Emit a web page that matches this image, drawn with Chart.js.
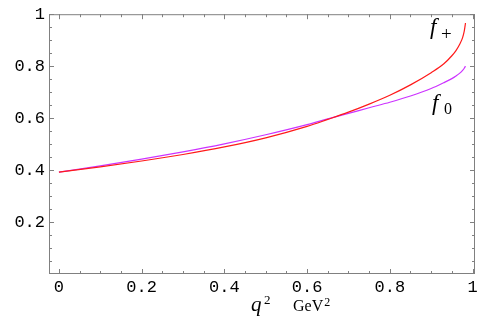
<!DOCTYPE html>
<html>
<head>
<meta charset="utf-8">
<script src="https://cdn.jsdelivr.net/npm/chart.js@4/dist/chart.umd.min.js"></script>
<style>
  html, body { margin: 0; padding: 0; background: #fff; }
  #wrap { width: 484px; height: 318px; position: relative; }
</style>
</head>
<body>
<div id="wrap"><canvas id="c"></canvas></div>
<script>
// f+ and f0 form factors vs q^2 (GeV^2)
const q2 = [0, 0.1, 0.2, 0.3, 0.4, 0.5, 0.6, 0.65, 0.7, 0.75, 0.8, 0.85, 0.9, 0.93, 0.95, 0.96, 0.97, 0.976, 0.98, 0.983];
const fPlus = [0.392, 0.412, 0.435, 0.460, 0.489, 0.524, 0.568, 0.595, 0.623, 0.654, 0.688, 0.728, 0.775, 0.808, 0.840, 0.860, 0.887, 0.910, 0.935, 0.966];
const fZero = [0.392, 0.416, 0.442, 0.470, 0.501, 0.536, 0.575, 0.597, 0.618, 0.640, 0.661, 0.685, 0.714, 0.736, 0.752, 0.762, 0.774, 0.784, 0.792, 0.800];

// frame ticks
const xMajor = [0, 0.2, 0.4, 0.6, 0.8, 1];
const xMinor = [0.05, 0.1, 0.15, 0.25, 0.3, 0.35, 0.45, 0.5, 0.55, 0.65, 0.7, 0.75, 0.85, 0.9, 0.95];
const yMajor = [0.2, 0.4, 0.6, 0.8, 1];
const yMinor = [0.05, 0.1, 0.15, 0.25, 0.3, 0.35, 0.45, 0.5, 0.55, 0.65, 0.7, 0.75, 0.85, 0.9, 0.95];

const pts = (ys) => q2.map((x, i) => ({ x: x, y: ys[i] }));
const fmt = (v) => {
  const r = Math.round(v * 10) / 10;
  return r === 0 || r === 1 ? String(r) : r.toFixed(1);
};

// Mathematica-style frame with inward ticks on all four sides
const framePlugin = {
  id: 'frame',
  afterDatasetsDraw(chart) {
    const { ctx, chartArea: a, scales: { x, y } } = chart;
    ctx.save();
    ctx.strokeStyle = '#808080';
    ctx.lineWidth = 1;
    ctx.strokeRect(a.left + 0.5, a.top + 0.5, a.right - a.left - 1, a.bottom - a.top - 1);
    ctx.beginPath();
    const tx = (v, len) => {
      const px = Math.round(x.getPixelForValue(v)) + 0.5;
      ctx.moveTo(px, a.bottom); ctx.lineTo(px, a.bottom - len);
      ctx.moveTo(px, a.top); ctx.lineTo(px, a.top + len);
    };
    const ty = (v, len) => {
      const py = Math.round(y.getPixelForValue(v)) + 0.5;
      ctx.moveTo(a.left, py); ctx.lineTo(a.left + len, py);
      ctx.moveTo(a.right, py); ctx.lineTo(a.right - len, py);
    };
    xMajor.forEach((v) => tx(v, 5));
    xMinor.forEach((v) => tx(v, 3));
    yMajor.forEach((v) => ty(v, 5));
    yMinor.forEach((v) => ty(v, 3));
    ctx.stroke();
    ctx.restore();
  },
  afterDraw(chart) {
    const ctx = chart.ctx;
    ctx.save();
    ctx.fillStyle = '#000';
    ctx.textBaseline = 'alphabetic';
    // axis title: q^2  GeV^2
    ctx.font = 'italic 21px "Liberation Serif"';
    ctx.fillText('q', 251, 311);
    ctx.font = '13px "Liberation Serif"';
    ctx.fillText('2', 264, 304);
    ctx.font = '16px "Liberation Serif"';
    ctx.fillText('GeV', 293, 311);
    const w = ctx.measureText('GeV').width;
    ctx.font = '12px "Liberation Serif"';
    ctx.fillText('2', 293 + w + 1, 306);
    // curve labels
    ctx.font = 'italic 23px "Liberation Serif"';
    ctx.fillText('f', 430, 34);
    ctx.fillText('f', 432, 110);
    ctx.font = '19px "Liberation Serif"';
    ctx.fillText('+', 441, 40);
    ctx.font = '16px "Liberation Serif"';
    ctx.fillText('0', 444, 114);
    ctx.restore();
  }
};

new Chart(document.getElementById('c'), {
  type: 'line',
  data: {
    datasets: [
      { label: 'f+', data: pts(fPlus), borderColor: '#ff1a1a', borderWidth: 1.2, pointRadius: 0, cubicInterpolationMode: 'monotone', fill: false },
      { label: 'f0', data: pts(fZero), borderColor: '#cc33ff', borderWidth: 1.2, pointRadius: 0, cubicInterpolationMode: 'monotone', fill: false },
    ],
  },
  options: {
    responsive: true, maintainAspectRatio: false, animation: false,
    layout: { padding: { top: 11, right: 9, left: 0, bottom: 0 } },
    plugins: { legend: { display: false }, tooltip: { enabled: false } },
    scales: {
      x: {
        type: 'linear', min: -0.024, max: 1.006,
        grid: { display: false, drawTicks: false }, border: { display: false },
        ticks: { stepSize: 0.2, includeBounds: false, maxRotation: 0, autoSkip: false, padding: 3, color: '#000',
          font: { family: 'Liberation Mono', size: 17 }, callback: (v) => fmt(v) },
        afterFit: (s) => { s.height = 44; },
      },
      y: {
        type: 'linear', min: 0, max: 1,
        grid: { display: false, drawTicks: false }, border: { display: false },
        ticks: { stepSize: 0.2, includeBounds: false, autoSkip: false, padding: 4, color: '#000',
          font: { family: 'Liberation Mono', size: 17 }, callback: (v) => (v < 0.01 ? '' : fmt(v)) },
        afterFit: (s) => { s.width = 49; },
      },
    },
  },
  plugins: [framePlugin],
});
</script>
</body>
</html>
